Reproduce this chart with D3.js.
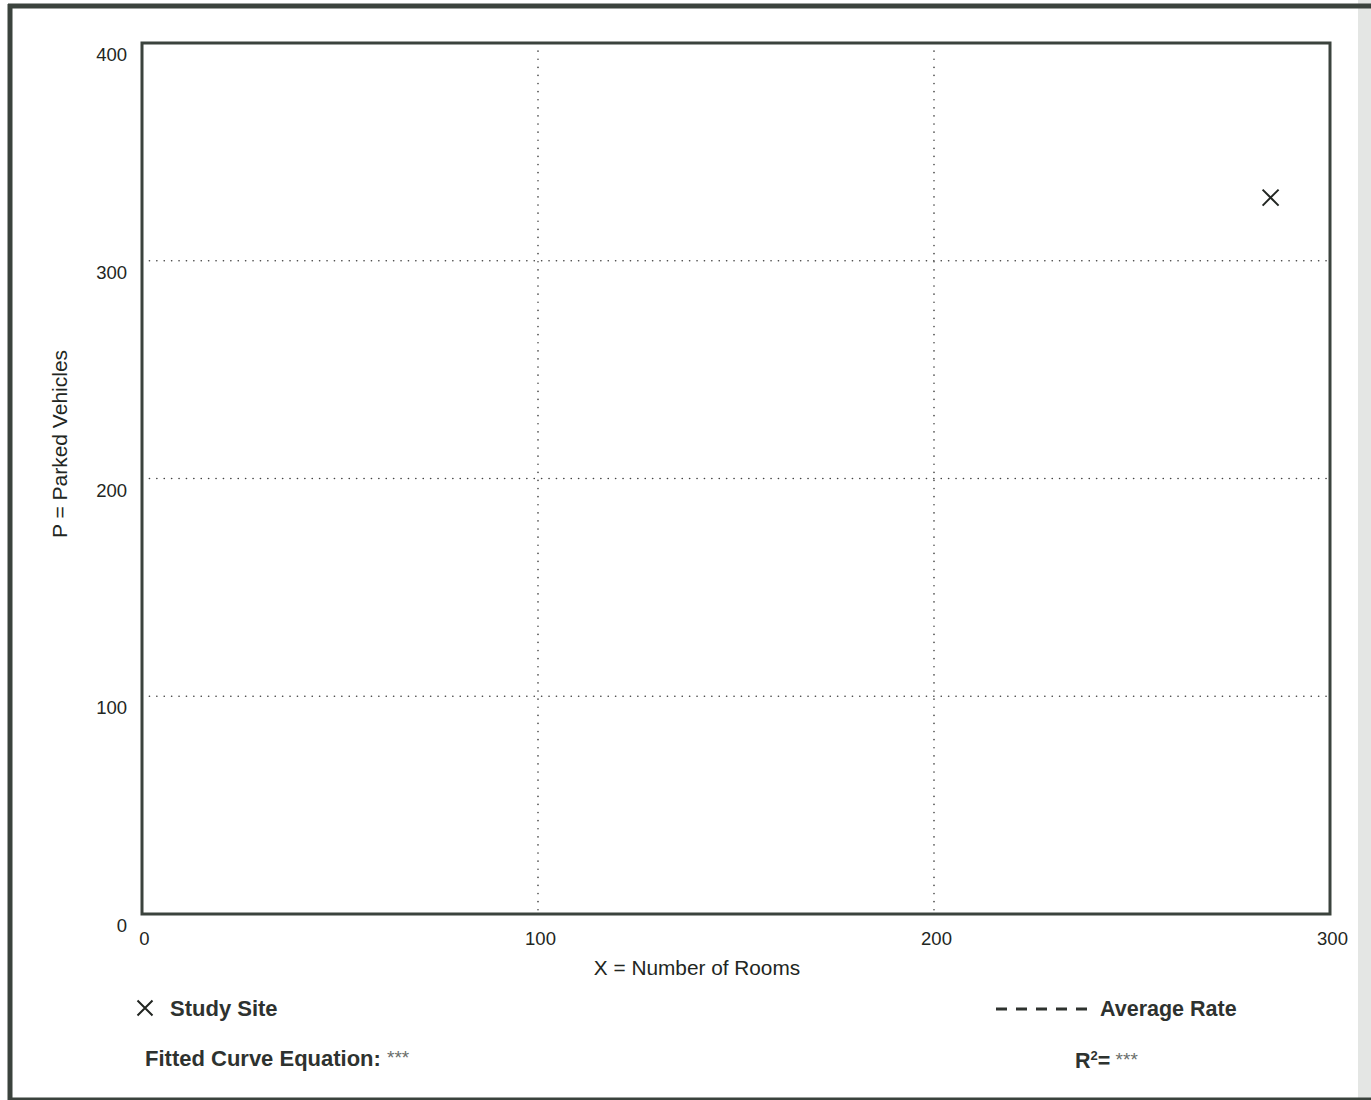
<!DOCTYPE html>
<html>
<head>
<meta charset="utf-8">
<script src="https://cdn.jsdelivr.net/npm/d3@7"></script>
<style>
  html, body { margin: 0; padding: 0; background: #fff; }
  svg { display: block; font-family: "Liberation Sans", Arial, sans-serif; }
</style>
</head>
<body>
<script>
// Axis ranges and tick labels
const xTicks = [0, 100, 200, 300];
const yTicks = [0, 100, 200, 300, 400];
const xDomain = [0, 300];
const yDomain = [0, 400];

// Observed study sites: rooms vs. parked vehicles
const siteRooms = [285];
const siteParked = [329];

// Legend and caption text
const xTitle = "X = Number of Rooms";
const yTitle = "P = Parked Vehicles";
const legendSite = "Study Site";
const legendAvg = "Average Rate";
const fittedLabel = "Fitted Curve Equation: ";
const fittedValue = "***";
const r2Value = "***";

const W = 1371, H = 1100;
const plot = { left: 142, right: 1330, top: 43, bottom: 914 };
const ink = "#222622";
const frame = "#3b433d";

const svg = d3.select("body").append("svg")
  .attr("width", W).attr("height", H);

// Page frame
svg.append("rect").attr("x", 1358).attr("y", 0).attr("width", 13).attr("height", H)
  .attr("fill", "#e4e6e4");
svg.append("line").attr("x1", 10).attr("x2", 10).attr("y1", 4).attr("y2", H)
  .attr("stroke", frame).attr("stroke-width", 5);
svg.append("line").attr("x1", 8).attr("x2", W).attr("y1", 6).attr("y2", 6)
  .attr("stroke", frame).attr("stroke-width", 5);
svg.append("line").attr("x1", 8).attr("x2", W).attr("y1", 1099).attr("y2", 1099)
  .attr("stroke", frame).attr("stroke-width", 3);

const x = d3.scaleLinear().domain(xDomain).range([plot.left, plot.right]);
const y = d3.scaleLinear().domain(yDomain).range([plot.bottom, plot.top]);

// Dotted grid
const grid = svg.append("g").attr("stroke", "#444").attr("stroke-width", 1.6)
  .attr("stroke-linecap", "round");
grid.selectAll("line.v").data(xTicks.filter(d => d > xDomain[0] && d < xDomain[1]))
  .join("line").attr("class", "v")
  .attr("x1", d => x(d)).attr("x2", d => x(d))
  .attr("y1", plot.top).attr("y2", plot.bottom)
  .attr("stroke-dasharray", "0.1,8");
grid.selectAll("line.h").data(yTicks.filter(d => d > yDomain[0] && d < yDomain[1]))
  .join("line").attr("class", "h")
  .attr("x1", plot.left).attr("x2", plot.right)
  .attr("y1", d => y(d)).attr("y2", d => y(d))
  .attr("stroke-dasharray", "0.1,7.3");

// Plot border
svg.append("rect")
  .attr("x", plot.left).attr("y", plot.top)
  .attr("width", plot.right - plot.left).attr("height", plot.bottom - plot.top)
  .attr("fill", "none").attr("stroke", frame).attr("stroke-width", 3);

// Axes (labels only)
const xAxis = svg.append("g")
  .attr("transform", `translate(0,${plot.bottom})`)
  .call(d3.axisBottom(x).tickValues(xTicks).tickSize(0).tickPadding(18));
xAxis.select(".domain").remove();
xAxis.selectAll("text").attr("font-size", 18.5).attr("fill", ink)
  .attr("font-family", "Liberation Sans, Arial, sans-serif")
  .attr("dx", 2);

const yAxis = svg.append("g")
  .attr("transform", `translate(${plot.left},0)`)
  .call(d3.axisLeft(y).tickValues(yTicks).tickSize(0).tickPadding(15));
yAxis.select(".domain").remove();
yAxis.selectAll("text").attr("font-size", 18.5).attr("fill", ink)
  .attr("font-family", "Liberation Sans, Arial, sans-serif")
  .attr("dy", "0.95em");

// Axis titles
svg.append("text").attr("x", 697).attr("y", 975)
  .attr("text-anchor", "middle").attr("font-size", 20.8).attr("fill", ink)
  .text(xTitle);
svg.append("text")
  .attr("transform", "translate(67,444) rotate(-90)")
  .attr("text-anchor", "middle").attr("font-size", 21).attr("fill", ink)
  .text(yTitle);

// Cross marker path
const cross = s => `M${-s},${-s}L${s},${s}M${-s},${s}L${s},${-s}`;

// Study site points
svg.selectAll("path.site")
  .data(siteRooms.map((r, i) => ({ r, p: siteParked[i] })))
  .join("path").attr("class", "site")
  .attr("transform", d => `translate(${x(d.r)},${y(d.p)})`)
  .attr("d", cross(8))
  .attr("stroke", ink).attr("stroke-width", 2).attr("fill", "none");

// Legend
const legendFont = 21.5;
const legendInk = "#2e322f";
svg.append("path").attr("transform", "translate(145,1008)").attr("d", cross(7.5))
  .attr("stroke", ink).attr("stroke-width", 2).attr("fill", "none");
svg.append("text").attr("x", 170).attr("y", 1016)
  .attr("font-size", 22).attr("font-weight", "bold").attr("fill", legendInk)
  .text(legendSite);

svg.append("line").attr("x1", 996).attr("x2", 1088).attr("y1", 1009).attr("y2", 1009)
  .attr("stroke", legendInk).attr("stroke-width", 3).attr("stroke-dasharray", "11,9");
svg.append("text").attr("x", 1100).attr("y", 1016)
  .attr("font-size", legendFont).attr("font-weight", "bold").attr("fill", legendInk)
  .text(legendAvg);

const fit = svg.append("text").attr("x", 145).attr("y", 1066)
  .attr("font-size", 22).attr("font-weight", "bold").attr("fill", legendInk);
fit.append("tspan").text(fittedLabel);
fit.append("tspan").attr("font-size", 19).attr("font-weight", "normal")
  .attr("dy", -2).attr("fill", "#6a6e6b").text(fittedValue);

const r2 = svg.append("text").attr("x", 1075).attr("y", 1068)
  .attr("font-size", legendFont).attr("font-weight", "bold").attr("fill", legendInk);
r2.append("tspan").text("R");
r2.append("tspan").attr("font-size", 13).attr("dy", -8).text("2");
r2.append("tspan").attr("dy", 8).text("=");
r2.append("tspan").attr("font-size", 19).attr("font-weight", "normal")
  .attr("dy", -2).attr("fill", "#6a6e6b").text(" " + r2Value);
</script>
</body>
</html>
